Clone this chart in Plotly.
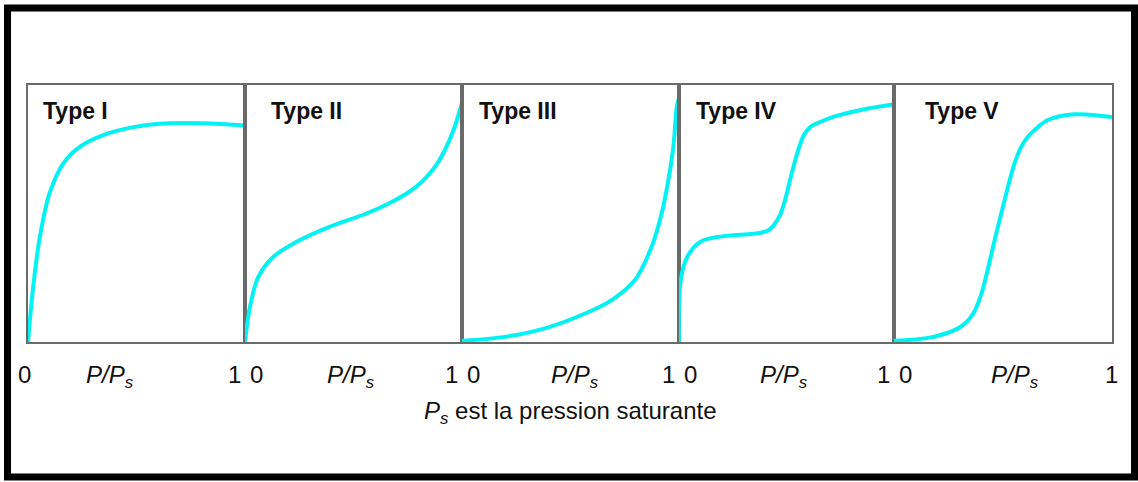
import plotly.graph_objects as go

# ---- data ----
type_names = ["Type I", "Type II", "Type III", "Type IV", "Type V"]

type1_x = [0, 0.024, 0.055, 0.10, 0.163, 0.24, 0.347, 0.50, 0.654, 0.81, 1.0]
type1_y = [0, 0.215, 0.41, 0.58, 0.695, 0.76, 0.805, 0.838, 0.851, 0.851, 0.842]

type2_x = [0, 0.023, 0.062, 0.131, 0.238, 0.392, 0.56, 0.66, 0.745, 0.80, 0.837, 0.883, 0.922, 0.96, 1.0]
type2_y = [0, 0.137, 0.254, 0.332, 0.39, 0.449, 0.50, 0.538, 0.578, 0.612, 0.642, 0.69, 0.748, 0.822, 0.93]

type3_x = [0, 0.198, 0.382, 0.551, 0.69, 0.797, 0.874, 0.92, 0.951, 0.974, 0.99, 1.0]
type3_y = [0.005, 0.02, 0.053, 0.105, 0.163, 0.241, 0.371, 0.50, 0.63, 0.76, 0.916, 0.95]

type4_x = [0, 0.008, 0.039, 0.10, 0.21, 0.333, 0.38, 0.419, 0.442, 0.473, 0.496, 0.512,
           0.535, 0.558, 0.581, 0.613, 0.659, 0.721, 0.846, 1.0]
type4_y = [0, 0.241, 0.332, 0.39, 0.412, 0.42, 0.425, 0.436, 0.455, 0.50, 0.56, 0.615,
           0.69, 0.755, 0.805, 0.838, 0.857, 0.877, 0.903, 0.925]

type5_x = [0, 0.17, 0.294, 0.339, 0.37, 0.40, 0.431, 0.462, 0.492, 0.553, 0.584, 0.615,
           0.645, 0.706, 0.829, 1.0]
type5_y = [0.005, 0.018, 0.053, 0.083, 0.12, 0.185, 0.285, 0.397, 0.50, 0.695, 0.76, 0.80,
           0.825, 0.864, 0.886, 0.875]

tick_labels = ["0", "1"]
axis_label = "<i>P/P<sub>s</sub></i>"
caption = "<i>P<sub>s</sub></i> est la pression saturante"

series_x = [type1_x, type2_x, type3_x, type4_x, type5_x]
series_y = [type1_y, type2_y, type3_y, type4_y, type5_y]

# ---- layout helpers (pixel geometry of the 1138x482 page) ----
W, H = 1138, 482
panel_edges = [28, 245, 462, 679, 894, 1112]
top_px, bot_px = 85, 342
label_rel = [0.38, 0.49, 0.52, 0.49, 0.555]
type_left_px = [41, 269, 477, 694, 923]


def px(x):
    return x / W


def py(y):
    return 1 - y / H


fig = go.Figure()
CYAN = "#00f2f2"
AXC = "#6a6a6a"
FONT = "Liberation Sans, Arial, sans-serif"
NARROW = "Liberation Sans Narrow, Arial Narrow, Liberation Sans, sans-serif"

annotations = []
for i in range(5):
    n = "" if i == 0 else str(i + 1)
    fig.add_trace(go.Scatter(
        x=series_x[i], y=series_y[i], mode="lines",
        line=dict(color=CYAN, width=4, shape="spline", smoothing=1.0),
        xaxis="x" + n, yaxis="y" + n, showlegend=False, hoverinfo="skip",
    ))
    ax = dict(domain=[px(panel_edges[i]), px(panel_edges[i + 1])], range=[0, 1],
              showgrid=False, zeroline=False, showticklabels=False, ticks="",
              showline=True, mirror=True, linecolor=AXC, linewidth=2,
              anchor="y" + n, fixedrange=True)
    ay = dict(domain=[py(bot_px), py(top_px)], range=[0, 1],
              showgrid=False, zeroline=False, showticklabels=False, ticks="",
              showline=True, mirror=True, linecolor=AXC, linewidth=2,
              anchor="x" + n, fixedrange=True)
    fig.update_layout(**{"xaxis" + n: ax, "yaxis" + n: ay})

    # tick labels 0 and 1
    annotations.append(dict(x=0, y=py(374), xref="x" + n, yref="paper",
                            text=tick_labels[0], showarrow=False,
                            xanchor="center", yanchor="middle",
                            xshift=(-4 if i == 0 else 11),
                            font=dict(family=FONT, size=24, color="#111")))
    annotations.append(dict(x=1, y=py(374), xref="x" + n, yref="paper",
                            text=tick_labels[1], showarrow=False,
                            xanchor="center", yanchor="middle",
                            xshift=(-1 if i == 4 else -11),
                            font=dict(family=FONT, size=24, color="#111")))
    annotations.append(dict(x=label_rel[i], y=py(376), xref="x" + n, yref="paper",
                            text=axis_label, showarrow=False,
                            xanchor="center", yanchor="middle",
                            font=dict(family=FONT, size=24, color="#111")))
    annotations.append(dict(x=px(type_left_px[i]), y=py(111), xref="paper", yref="paper",
                            text="<b>" + type_names[i] + "</b>", showarrow=False,
                            xanchor="left", yanchor="middle",
                            font=dict(family=NARROW, size=23, color="#111")))

annotations.append(dict(x=px(570), y=py(412), xref="paper", yref="paper",
                        text=caption, showarrow=False, xanchor="center", yanchor="middle",
                        font=dict(family=FONT, size=24, color="#111")))

fig.update_layout(
    width=W, height=H, margin=dict(l=0, r=0, t=0, b=0),
    paper_bgcolor="white", plot_bgcolor="white",
    annotations=annotations,
    shapes=[dict(type="rect", xref="paper", yref="paper",
                 x0=px(7.5), x1=px(1134.5), y0=py(477), y1=py(8),
                 line=dict(color="black", width=7))],
)

fig.write_html("out.html", config={"displayModeBar": False},
               post_script="document.body.style.margin='0';document.body.style.overflow='hidden';")
